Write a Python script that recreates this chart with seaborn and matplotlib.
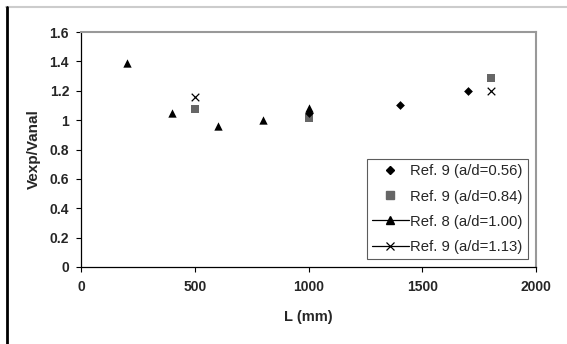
import matplotlib
matplotlib.use("Agg")
import matplotlib.pyplot as plt
from matplotlib.lines import Line2D
import seaborn as sns
import pandas as pd

sns.set_style("white")
plt.rcParams['font.family'] = ['Liberation Sans', 'DejaVu Sans']

# Data
ref9_056_L = [1000, 1400, 1700]
ref9_056_v = [1.05, 1.10, 1.20]
ref9_084_L = [500, 1000, 1800]
ref9_084_v = [1.075, 1.015, 1.29]
ref8_100_L = [200, 400, 600, 800, 1000]
ref8_100_v = [1.39, 1.05, 0.96, 1.00, 1.08]
ref9_113_L = [500, 1800]
ref9_113_v = [1.16, 1.20]

labels = ["Ref. 9 (a/d=0.56)", "Ref. 9 (a/d=0.84)", "Ref. 8 (a/d=1.00)", "Ref. 9 (a/d=1.13)"]
xticks = [0, 500, 1000, 1500, 2000]
yticks = [0, 0.2, 0.4, 0.6, 0.8, 1.0, 1.2, 1.4, 1.6]
ytick_labels = ["0", "0.2", "0.4", "0.6", "0.8", "1", "1.2", "1.4", "1.6"]

W, H = 567, 344
fig = plt.figure(figsize=(W / 100, H / 100), dpi=100)
ax = fig.add_axes([81 / W, 1 - 267 / H, (536 - 81) / W, (267 - 32) / H])

df056 = pd.DataFrame({"L": ref9_056_L, "v": ref9_056_v})
df084 = pd.DataFrame({"L": ref9_084_L, "v": ref9_084_v})
df100 = pd.DataFrame({"L": ref8_100_L, "v": ref8_100_v})
df113 = pd.DataFrame({"L": ref9_113_L, "v": ref9_113_v})

sns.scatterplot(data=df084, x="L", y="v", ax=ax, marker="s", s=36, color="#666666", edgecolor="#666666", linewidth=0, zorder=3)
sns.scatterplot(data=df056, x="L", y="v", ax=ax, marker="D", s=20, color="black", edgecolor="black", linewidth=0, zorder=4)
sns.scatterplot(data=df100, x="L", y="v", ax=ax, marker="^", s=36, color="black", edgecolor="black", linewidth=0, zorder=5)
sns.scatterplot(data=df113, x="L", y="v", ax=ax, marker="x", s=30, color="black", linewidth=0.9, zorder=5)

ax.set_xlim(0, 2000)
ax.set_ylim(0, 1.6)
ax.set_xticks(xticks)
ax.set_xticklabels([str(t) for t in xticks], fontweight="bold", fontsize=10)
ax.set_yticks(yticks)
ax.set_yticklabels(ytick_labels, fontweight="bold", fontsize=10)
ax.tick_params(axis="both", direction="out", length=3.6, width=0.8, color="black", bottom=True, left=True)
ax.tick_params(axis="x", pad=5.5)
ax.tick_params(axis="y", pad=5)
ax.set_xlabel("L (mm)", fontweight="bold", fontsize=10.5, labelpad=12)
ax.set_ylabel("Vexp/Vanal", fontweight="bold", fontsize=11, labelpad=6)

for side in ["left", "bottom"]:
    ax.spines[side].set_color("black")
    ax.spines[side].set_linewidth(0.9)
for side in ["top", "right"]:
    ax.spines[side].set_color("#999999")
    ax.spines[side].set_linewidth(1.5)

handles = [
    Line2D([], [], marker="D", markersize=4.5, color="black", linestyle="none"),
    Line2D([], [], marker="s", markersize=5.5, color="#666666", linestyle="none"),
    Line2D([], [], marker="^", markersize=6, color="black", linestyle="-", linewidth=0.9),
    Line2D([], [], marker="x", markersize=5.5, color="black", linestyle="-", linewidth=0.9, markeredgewidth=0.9),
]
leg = ax.legend(handles, labels, loc="lower right",
                bbox_to_anchor=((528 - 81) / 455, (267 - 259) / 235),
                fontsize=10.7, frameon=True, fancybox=False, edgecolor="#333333",
                handlelength=2.5, handletextpad=0.1, borderpad=0.35, labelspacing=0.75,
                borderaxespad=0)
leg.get_frame().set_linewidth(0.8)

# figure border lines
fig.add_artist(Line2D([6 / W, 1], [1 - 7 / H, 1 - 7 / H], color="#cccccc", linewidth=1.5, transform=fig.transFigure))
fig.add_artist(Line2D([6.5 / W, 6.5 / W], [0, 1 - 7 / H], color="black", linewidth=2, transform=fig.transFigure))

fig.savefig("out.png", dpi=100)
